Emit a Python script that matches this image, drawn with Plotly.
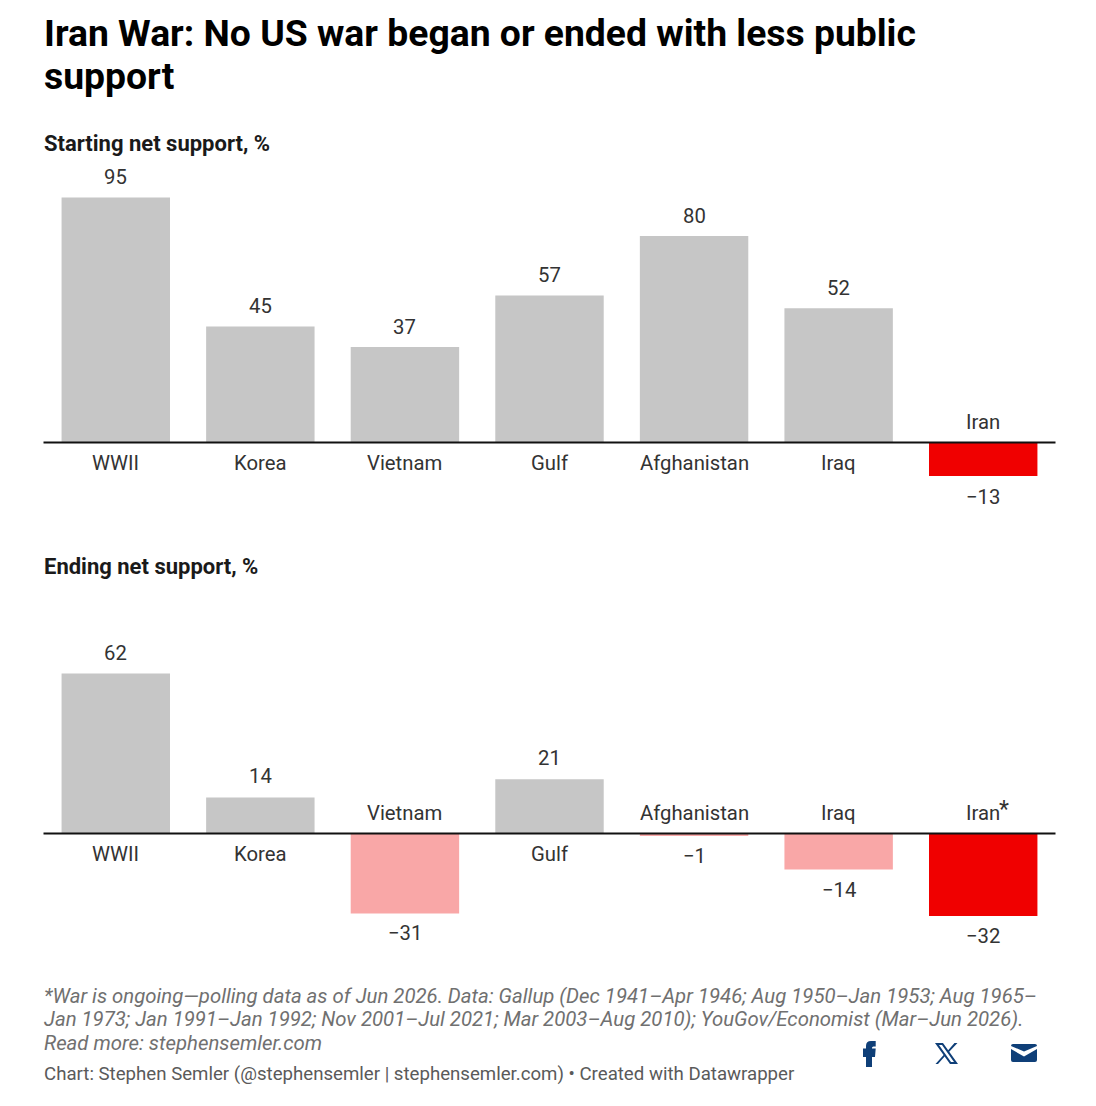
import plotly.graph_objects as go

W, H = 1096, 1106

wars = ["WWII", "Korea", "Vietnam", "Gulf", "Afghanistan", "Iraq", "Iran"]
start_support = [95, 45, 37, 57, 80, 52, -13]
end_support = [62, 14, -31, 21, -1, -14, -32]

GRAY, PINK, RED, INK = "#c6c6c6", "#f9a7a7", "#f00000", "#333333"
NAVY = "#0f3f78"
PX_PER_UNIT = 2.58


def px(x):
    return x / W


def py(y):
    return 1 - y / H


def bar_colors(values):
    # Iran is always highlighted; other wars turn pink below zero
    return [RED if w == "Iran" else (PINK if v < 0 else GRAY) for w, v in zip(wars, values)]


def value_text(v):
    return f"\u2212{abs(v)}" if v < 0 else str(v)


fig = go.Figure()
# axis ids, values, pixel extent of the panel, baseline row, nudge for its labels
panels = [
    ("x", "y", start_support, 160, 500, 442.5, 0),
    ("x2", "y2", end_support, 620, 960, 833.5, 1),
]

annotations = []
shapes = []
layout_axes = {}

for i, (xa, ya, values, top, bottom, zero, nudge) in enumerate(panels):
    suffix = "" if i == 0 else "2"
    fig.add_bar(
        x=wars, y=values, xaxis=xa, yaxis=ya,
        marker=dict(color=bar_colors(values), line_width=0),
        hoverinfo="skip", showlegend=False,
    )
    layout_axes["xaxis" + suffix] = dict(
        domain=[px(43.5), px(1055.5)], anchor=ya, visible=False,
        categoryorder="array", categoryarray=wars, range=[-0.5, 6.5], fixedrange=True,
    )
    layout_axes["yaxis" + suffix] = dict(
        domain=[py(bottom), py(top)], anchor=xa, visible=False,
        range=[(zero - bottom) / PX_PER_UNIT, (zero - top) / PX_PER_UNIT], fixedrange=True,
    )
    # baseline sits on top of the bars
    shapes.append(dict(
        type="line", xref=f"{xa} domain", yref=ya, x0=0, x1=1, y0=0, y1=0,
        line=dict(color="#111111", width=1.8), layer="above",
    ))
    for war, v in zip(wars, values):
        up = v >= 0
        # value on the far side of the bar, war name across the baseline
        annotations.append(dict(
            x=war, y=v, xref=xa, yref=ya, text=value_text(v), showarrow=False,
            yanchor="bottom" if up else "top", yshift=(6 if up else -7) + nudge,
            font=dict(size=20.3, color=INK),
        ))
        annotations.append(dict(
            x=war, y=0, xref=xa, yref=ya, text=war, showarrow=False,
            yanchor="top" if up else "bottom", yshift=(-6 if up else 7),
            font=dict(size=20.3, color=INK),
        ))

# footnote marker on the ongoing war, raised beside its name
annotations.append(dict(
    x="Iran", y=0, xref="x2", yref="y2", text="*", showarrow=False,
    xanchor="center", yanchor="bottom", xshift=21, yshift=9,
    font=dict(size=23, color=INK),
))


def paper_text(x, y, text, size, color):
    annotations.append(dict(
        x=px(x - 2), y=py(y), xref="paper", yref="paper", text=text, showarrow=False,
        xanchor="left", yanchor="middle", align="left",
        font=dict(size=size, color=color, family="Roboto"),
    ))


paper_text(44, 33.5, "<b>Iran War: No US war began or ended with less public</b>", 37.3, "#000000")
paper_text(44, 76.5, "<b>support</b>", 37.3, "#000000")
paper_text(44, 144, "<b>Starting net support, %</b>", 22, "#1a1a1a")
paper_text(44, 566.5, "<b>Ending net support, %</b>", 22, "#1a1a1a")

notes = [
    (995.5, "<i>*War is ongoing\u2014polling data as of Jun 2026. Data: Gallup (Dec 1941\u2013Apr 1946; Aug 1950\u2013Jan 1953; Aug 1965\u2013</i>"),
    (1019, "<i>Jan 1973; Jan 1991\u2013Jan 1992; Nov 2001\u2013Jul 2021; Mar 2003\u2013Aug 2010); YouGov/Economist (Mar\u2013Jun 2026).</i>"),
    (1043, "<i>Read more: stephensemler.com</i>"),
]
for y, line in notes:
    paper_text(44, y, line, 20.35, "#707070")
paper_text(44, 1074, "Chart: Stephen Semler (@stephensemler | stephensemler.com) \u2022 Created with Datawrapper", 18.65, "#5a5a5a")


def icon(points_cmds):
    # builds an SVG path from pixel positions on the page
    out = []
    for c in points_cmds:
        if isinstance(c, str):
            out.append(c)
        else:
            out.append(f"{px(c[0]):.5f},{py(c[1]):.5f}")
    return " ".join(out)


facebook = ["M", (866, 1067), "L", (866, 1057), "L", (863, 1057), "L", (863, 1048.5), "L", (866, 1048.5),
            "L", (866, 1046), "Q", (866, 1041), (871, 1041), "L", (875.7, 1041), "L", (875.7, 1046.5),
            "L", (873.5, 1046.5), "Q", (872, 1046.5), (872, 1048), "L", (872, 1048.5), "L", (875.7, 1048.5),
            "L", (875, 1057), "L", (872, 1057), "L", (872, 1067), "Z"]
x_logo_a = ["M", (935, 1043), "L", (943, 1043), "L", (958, 1064), "L", (950, 1064), "Z",
            "M", (939, 1045), "L", (951, 1062), "L", (954, 1062), "L", (942, 1045), "Z"]
x_logo_b = ["M", (954.5, 1043), "L", (957.5, 1043), "L", (948.5, 1052.5), "L", (947.5, 1051), "Z",
            "M", (944.5, 1054), "L", (945.5, 1055.5), "L", (938, 1064), "L", (935.5, 1064), "Z"]
mail_body = ["M", (1011, 1049), "L", (1024, 1056.5), "L", (1037, 1049), "L", (1037, 1060),
             "Q", (1037, 1062), (1035, 1062), "L", (1013, 1062), "Q", (1011, 1062), (1011, 1060), "Z"]
mail_flap = ["M", (1013, 1044), "L", (1035, 1044), "Q", (1037, 1044), (1037, 1046), "L", (1024, 1051.5),
             "L", (1011, 1046), "Q", (1011, 1044), (1013, 1044), "Z"]
for glyph in (facebook, x_logo_a, x_logo_b, mail_body, mail_flap):
    shapes.append(dict(type="path", xref="paper", yref="paper", path=icon(glyph),
                       fillcolor=NAVY, line_width=0, fillrule="evenodd"))

fig.update_layout(
    width=W, height=H, margin=dict(l=0, r=0, t=0, b=0),
    paper_bgcolor="white", plot_bgcolor="white",
    font=dict(family="Roboto", color=INK),
    barmode="relative", bargap=0.25,
    annotations=annotations, shapes=shapes,
    **layout_axes,
)
fig.write_html("out.html", config=dict(displayModeBar=False))
